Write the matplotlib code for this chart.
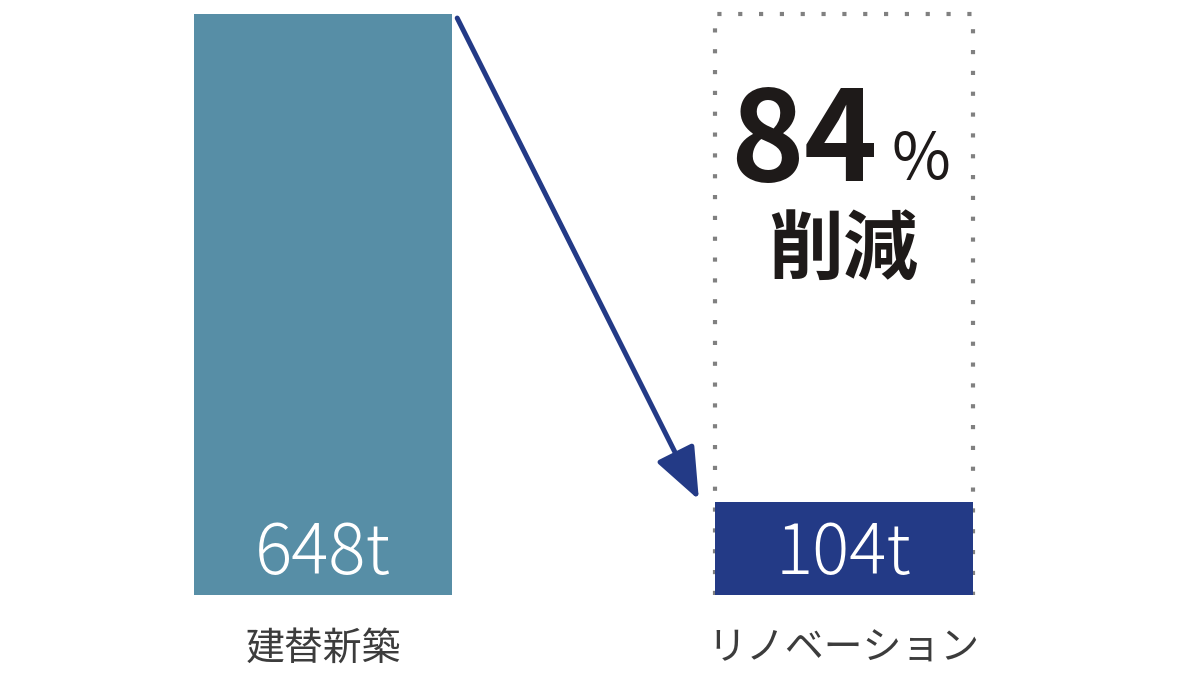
"""Embodied CO2: rebuild vs. renovation, with the 84% reduction callout."""

import matplotlib

matplotlib.use("Agg")

import matplotlib.pyplot as plt
from matplotlib.patches import FancyArrowPatch

plt.rcParams["font.family"] = ["Noto Sans CJK JP", "DejaVu Sans"]

categories = ["建替新築", "リノベーション"]
values = [648, 104]
value_labels = ["648t", "104t"]
reduction_pct = "84"
reduction_word = "削減"

BAR_COLORS = ["#578ea6", "#233a86"]
ARROW_COLOR = "#233a86"
DOT_COLOR = "#808080"
LABEL_COLOR = "#3c3c3c"
TEXT_DARK = "#1e1a19"

W, H = 1200, 675
fig = plt.figure(figsize=(W / 100, H / 100), dpi=100)
# axes box in pixels: bars from y=595 (base) to y=14 (top of the tall bar)
ax = fig.add_axes([0, 80 / H, 1, 581 / H])
ax.set_axis_off()

px_per_unit = 520.5
first_center = 323
bar_width = 258 / px_per_unit
ax.set_xlim(-first_center / px_per_unit, 1 + (W - first_center - px_per_unit) / px_per_unit)
ax.set_ylim(0, max(values))

xs = list(range(len(categories)))
ax.bar(xs, values, width=bar_width, color=BAR_COLORS, zorder=3)

# dotted outline showing the original amount around the renovation bar
left = xs[1] - bar_width / 2
right = xs[1] + bar_width / 2
ax.plot([left, left, right, right], [0, values[0], values[0], 0],
        color=DOT_COLOR, lw=3, linestyle=(0, (1, 4)), zorder=2, clip_on=False)

for x, label in zip(xs, value_labels):
    ax.text(x, values[1] * 0.43, label, ha="center", va="center", color="white",
            fontsize=50, fontweight="light", zorder=4)

for x, name in zip(xs, categories):
    ax.text(x, -values[0] * 0.092, name, ha="center", va="center",
            color=LABEL_COLOR, fontsize=28)

# callout
ax.text(xs[1] - 0.076, values[0] * 0.775, reduction_pct, ha="center", va="center",
        color=TEXT_DARK, fontsize=90, fontweight="bold")
ax.text(xs[1] + 0.149, values[0] * 0.748, "%", ha="center", va="center",
        color=TEXT_DARK, fontsize=46)
ax.text(xs[1], values[0] * 0.592, reduction_word, ha="center", va="center",
        color=TEXT_DARK, fontsize=54, fontweight="bold")

arrow = FancyArrowPatch(
    (xs[0] + bar_width / 2 + 0.01, values[0] * 0.993),
    (xs[1] - bar_width / 2 - 0.03, values[1] * 1.02),
    arrowstyle="-|>,head_length=2.0,head_width=0.8",
    mutation_scale=16,
    color=ARROW_COLOR, lw=3.6, shrinkA=0, shrinkB=0, zorder=5,
)
ax.add_patch(arrow)

fig.savefig("out.png", dpi=100)
